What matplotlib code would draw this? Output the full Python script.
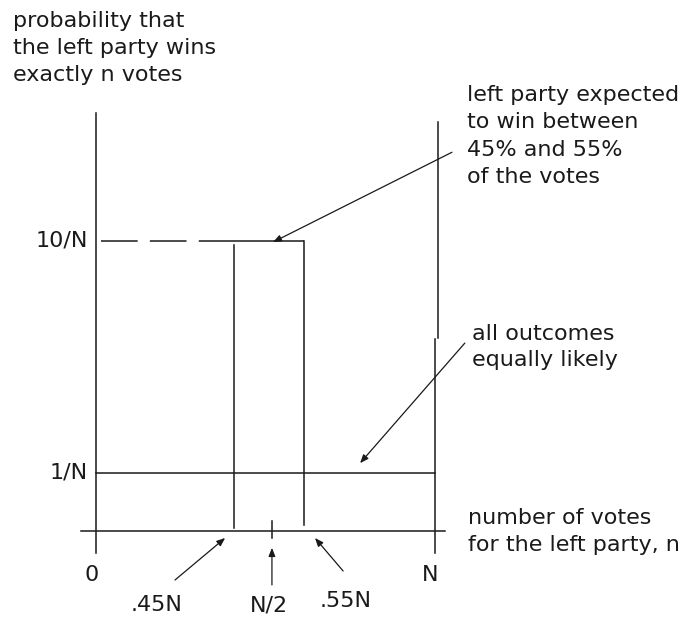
import matplotlib
matplotlib.use("Agg")
import matplotlib.pyplot as plt

plt.rcParams['font.family'] = ['DejaVu Sans']

# values as drawn in the sketch (x in units of N, y in drawn height units)
level_vals = [1.0, 5.0]
level_labels = ['1/N', '10/N']
band_left = 0.407      # ".45N" as drawn
band_right = 0.614     # ".55N" as drawn
half_mark = 0.519      # "N/2" as drawn
x_ends = [0.0, 1.0]
x_end_labels = ['0', 'N']

ink = '#1a1a1a'
lw = 1.1
fs = 16

fig = plt.figure(figsize=(6.82, 6.17), dpi=100)
ax = fig.add_axes([0, 0, 1, 1])
ax.set_xlim(-96 / 339, 586 / 339)
ax.set_ylim(-86 / 58, 531 / 58)
ax.axis('off')

# axes of the sketch
ax.plot([x_ends[0], x_ends[0]], [-0.38, 7.21], color=ink, lw=lw)
ax.plot([x_ends[1] + 0.009, x_ends[1] + 0.009], [3.33, 7.05], color=ink, lw=lw)
ax.plot([x_ends[1], x_ends[1]], [-0.38, 3.31], color=ink, lw=lw)
ax.plot([-0.044, 1.03], [0, 0], color=ink, lw=lw)

# uniform distribution
ax.plot([x_ends[0], x_ends[1]], [level_vals[0], level_vals[0]], color=ink, lw=lw)

# concentrated distribution
ax.plot([0.015, band_right], [level_vals[1], level_vals[1]], color=ink, lw=lw,
        dashes=(24, 8, 24, 8, 300))
ax.plot([band_right, band_right], [level_vals[1], 0.1], color=ink, lw=lw)
ax.plot([band_left, band_left], [level_vals[1] - 0.07, 0.05], color=ink, lw=lw)
ax.plot([half_mark, half_mark], [0.17, -0.12], color=ink, lw=lw)

# tick labels
for v, lab in zip(level_vals, level_labels):
    ax.text(-0.025, v, lab, ha='right', va='center', fontsize=fs, color=ink)
for v, lab in zip(x_ends, x_end_labels):
    ax.text(v - 0.013, -0.76, lab, ha='center', va='center', fontsize=fs, color=ink)

ap = dict(arrowstyle='-|>,head_length=0.5,head_width=0.2', color=ink, lw=0.9,
          shrinkA=0, shrinkB=0)

# labels under the axis with their arrows
ax.text(0.18, -1.28, '.45N', ha='center', va='center', fontsize=fs, color=ink)
ax.annotate('', xy=(0.381, -0.12), xytext=(0.233, -0.845), arrowprops=ap)
ax.text(0.51, -1.29, 'N/2', ha='center', va='center', fontsize=fs, color=ink)
ax.annotate('', xy=(half_mark, -0.29), xytext=(half_mark, -0.93), arrowprops=ap)
ax.text(0.735, -1.2, '.55N', ha='center', va='center', fontsize=fs, color=ink)
ax.annotate('', xy=(0.646, -0.12), xytext=(0.729, -0.69), arrowprops=ap)

ax.text(-0.245, 8.97, 'probability that\nthe left party wins\nexactly n votes',
        ha='left', va='top', fontsize=fs, color=ink, linespacing=1.45)

ax.text(1.094, 7.69, 'left party expected\nto win between\n45% and 55%\nof the votes',
        ha='left', va='top', fontsize=fs, color=ink, linespacing=1.46)
ax.annotate('', xy=(0.522, 4.98), xytext=(1.050, 6.53), arrowprops=ap)

ax.text(1.109, 3.57, 'all outcomes\nequally likely',
        ha='left', va='top', fontsize=fs, color=ink, linespacing=1.4)
ax.annotate('', xy=(0.779, 1.17), xytext=(1.088, 3.24), arrowprops=ap)

ax.text(1.097, 0.40, 'number of votes\nfor the left party, n',
        ha='left', va='top', fontsize=fs, color=ink, linespacing=1.43)

fig.savefig('out.png', dpi=100, facecolor='white')
